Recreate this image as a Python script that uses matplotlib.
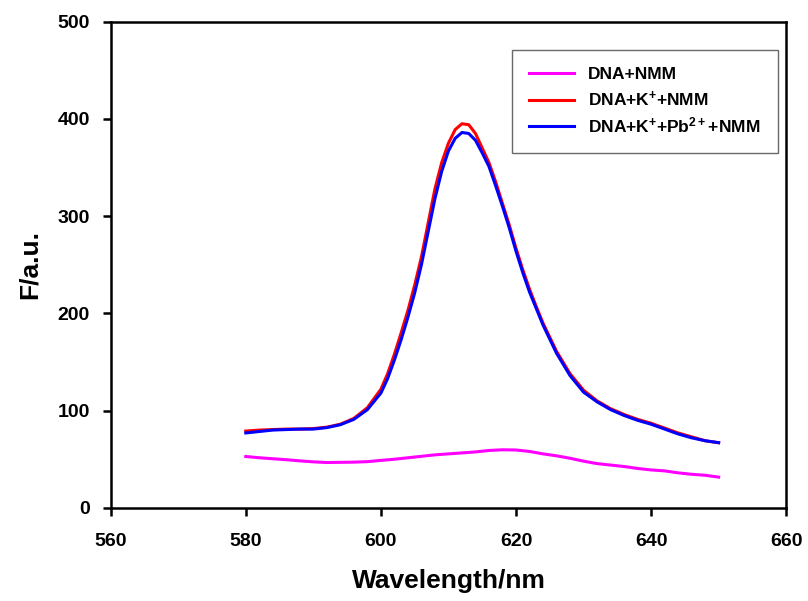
import numpy as np
import matplotlib
matplotlib.use("Agg")
import matplotlib.pyplot as plt

plt.rcParams['font.family'] = ['Liberation Sans', 'DejaVu Sans']
plt.rcParams['font.weight'] = 'bold'
plt.rcParams['mathtext.fontset'] = 'custom'
plt.rcParams['mathtext.rm'] = 'Liberation Sans:bold'
plt.rcParams['mathtext.bf'] = 'Liberation Sans:bold'
plt.rcParams['mathtext.default'] = 'rm'

# wavelengths for the K+ curves
wl = [580, 582, 584, 586, 588, 590, 592, 594, 596, 598, 600, 601, 602, 603, 604,
      605, 606, 607, 608, 609, 610, 611, 612, 613, 614, 615, 616, 617, 618, 619,
      620, 621, 622, 623, 624, 626, 628, 630, 632, 634, 636, 638, 640, 642, 644,
      646, 648, 650]
k_nmm = [79, 80, 80.5, 81, 81, 81.5, 83, 86, 92, 103, 122, 138, 158, 180, 203,
         229, 258, 293, 328, 355, 375, 389, 395, 394, 385, 370, 355, 335, 313, 291,
         267, 245, 225, 207, 190, 161, 138, 121, 110, 102, 96, 91, 87, 82, 77,
         73, 69, 67]
k_pb_nmm = [77, 78.5, 80, 80.5, 81, 81, 82.5, 85.5, 91, 101, 118, 133, 152, 173, 196,
            221, 250, 284, 318, 346, 367, 380, 386, 385, 378, 365, 351, 331, 310, 288,
            264, 242, 222, 205, 188, 159, 136, 119, 109, 101, 95, 90, 86, 81, 76,
            72, 69, 67]

# wavelengths for DNA+NMM
wl2 = [580, 582, 584, 586, 588, 590, 592, 594, 596, 598, 600, 602, 604, 606, 608,
       610, 612, 614, 616, 618, 620, 622, 624, 626, 628, 630, 632, 634, 636, 638,
       640, 642, 644, 646, 648, 650]
nmm = [52.8, 51.5, 50.5, 49.5, 48.3, 47.3, 46.6, 46.8, 47, 47.5, 48.8, 50, 51.5, 53, 54.5,
       55.5, 56.5, 57.5, 59, 59.7, 59.5, 58, 55.5, 53.5, 51, 48, 45.5, 44, 42.5, 40.5,
       39, 38, 36, 34.5, 33.5, 31.6]

fig = plt.figure(figsize=(8.08, 6.01), dpi=100)
ax = fig.add_axes([0.137, 0.155, 0.836, 0.809])

ax.plot(wl2, nmm, color='#ff00ff', lw=2.2, label='DNA+NMM')
ax.plot(wl, k_nmm, color='#ff0000', lw=2.2, label='DNA+K$^{+}$+NMM')
ax.plot(wl, k_pb_nmm, color='#0000ff', lw=2.2, label='DNA+K$^{+}$+Pb$^{2+}$+NMM')

ax.set_xlim(560, 660)
ax.set_ylim(0, 500)
ax.set_xticks(np.arange(560, 661, 20))
ax.set_yticks(np.arange(0, 501, 100))
ax.tick_params(direction='out', length=6, width=1.8, labelsize=14, top=False, right=False)
ax.tick_params(axis='x', pad=12)
ax.tick_params(axis='y', pad=9)
for lab in ax.get_xticklabels() + ax.get_yticklabels():
    lab.set_fontweight('bold')
for s in ax.spines.values():
    s.set_linewidth(1.8)

ax.set_xlabel('Wavelength/nm', fontsize=19, fontweight='bold', labelpad=14)
ax.set_ylabel('F/a.u.', fontsize=19, fontweight='bold', labelpad=11)

leg = ax.legend(loc='upper right', bbox_to_anchor=(0.988, 0.942), fontsize=12.5,
                frameon=True, fancybox=False, handlelength=2.6, borderpad=1.0,
                labelspacing=0.4, borderaxespad=0)
leg.get_frame().set_edgecolor('#444444')
leg.get_frame().set_linewidth(1.0)

fig.savefig('out.png', dpi=100)
